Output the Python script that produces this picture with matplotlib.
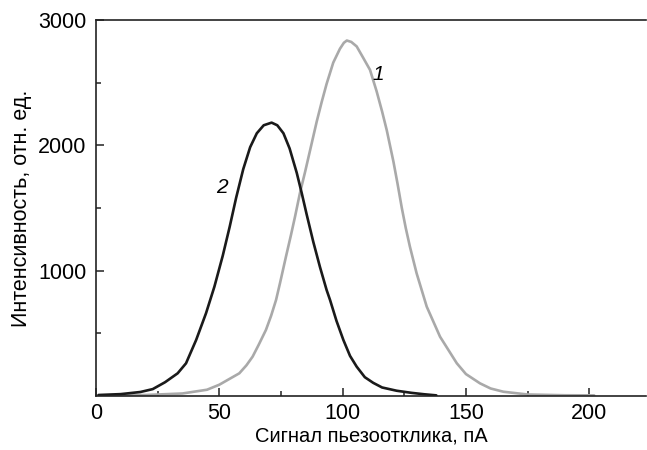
import matplotlib.pyplot as plt
from matplotlib.ticker import MultipleLocator

plt.rcParams['font.family'] = ['Liberation Sans', 'DejaVu Sans']

# curve 1 (grey)
x1 = [1, 20, 35, 45, 50, 54, 58.1, 61, 63.5, 66, 68.9, 71, 73, 74.6, 77, 79, 80.7,
      82.7, 84.8, 86.8, 89.5, 91.5, 93.5, 96.2, 98.9, 100.5, 101.7, 103.5, 105.7,
      108, 111.1, 113.8, 116, 117.9, 120.6, 122.3, 124, 125.6, 127.3, 130, 134.1,
      139.5, 146.3, 150, 155.7, 160, 165.2, 175, 190, 202]
y1 = [5, 8, 20, 50, 90, 135, 181, 245, 314, 410, 527, 640, 766, 900, 1110, 1280, 1431,
      1620, 1790, 1960, 2190, 2345, 2490, 2660, 2770, 2818, 2836, 2825, 2789,
      2710, 2602, 2430, 2270, 2120, 1870, 1690, 1500, 1340, 1190, 979, 713,
      473, 261, 175, 101, 60, 34, 12, 6, 5]

# curve 2 (black)
x2 = [1, 10, 18, 23, 28, 33.1, 36.5, 40.6, 44.6, 48, 51.4, 54.2, 56.8, 59.7, 62.5,
      65.2, 68, 71.2, 73.5, 76, 78.5, 81.4, 83.4, 85.4, 88.1, 90.8, 93.5, 94.9,
      97.5, 100.3, 103, 105.7, 109, 112.4, 116, 121.9, 128, 133, 138]
y2 = [8, 15, 32, 55, 110, 181, 261, 447, 660, 872, 1120, 1350, 1580, 1810, 1985,
      2096, 2160, 2181, 2160, 2096, 1975, 1780, 1620, 1450, 1230, 1030, 846, 766,
      600, 447, 320, 234, 150, 105, 68, 42, 25, 14, 5]

fig = plt.figure(figsize=(6.47, 4.5), dpi=100)
ax = fig.add_axes([0.1484, 0.12, 0.85, 0.8356])

ax.plot(x1, y1, color='#a9a9a9', lw=1.9, solid_joinstyle='round', solid_capstyle='round')
ax.plot(x2, y2, color='#1a1a1a', lw=1.9, solid_joinstyle='round', solid_capstyle='round')

ax.text(114.5, 2562, '1', fontsize=15, style='italic', ha='center', va='center')
ax.text(51, 1660, '2', fontsize=15, style='italic', ha='center', va='center')

ax.set_xlim(0, 223)
ax.set_ylim(0, 3000)
ax.set_xticks([0, 50, 100, 150, 200])
ax.xaxis.set_minor_locator(MultipleLocator(25))
ax.set_yticks([1000, 2000, 3000])
ax.set_yticks([500, 1500, 2500], minor=True)
ax.tick_params(which='both', direction='in', width=1.1, labelsize=15.5, color='#222222')
ax.tick_params(which='major', length=6)
ax.tick_params(which='minor', length=3.5)
ax.tick_params(axis='x', pad=5)
ax.tick_params(axis='y', pad=7)

for s in ['left', 'bottom', 'top']:
    ax.spines[s].set_linewidth(1.2)
    ax.spines[s].set_color('#222222')
ax.spines['right'].set_visible(False)

ax.set_xlabel('Сигнал пьезоотклика, пА', fontsize=14.5, labelpad=2)
ax.set_ylabel('Интенсивность, отн. ед.', fontsize=15.5, labelpad=4)

fig.savefig('out.png', dpi=100)
